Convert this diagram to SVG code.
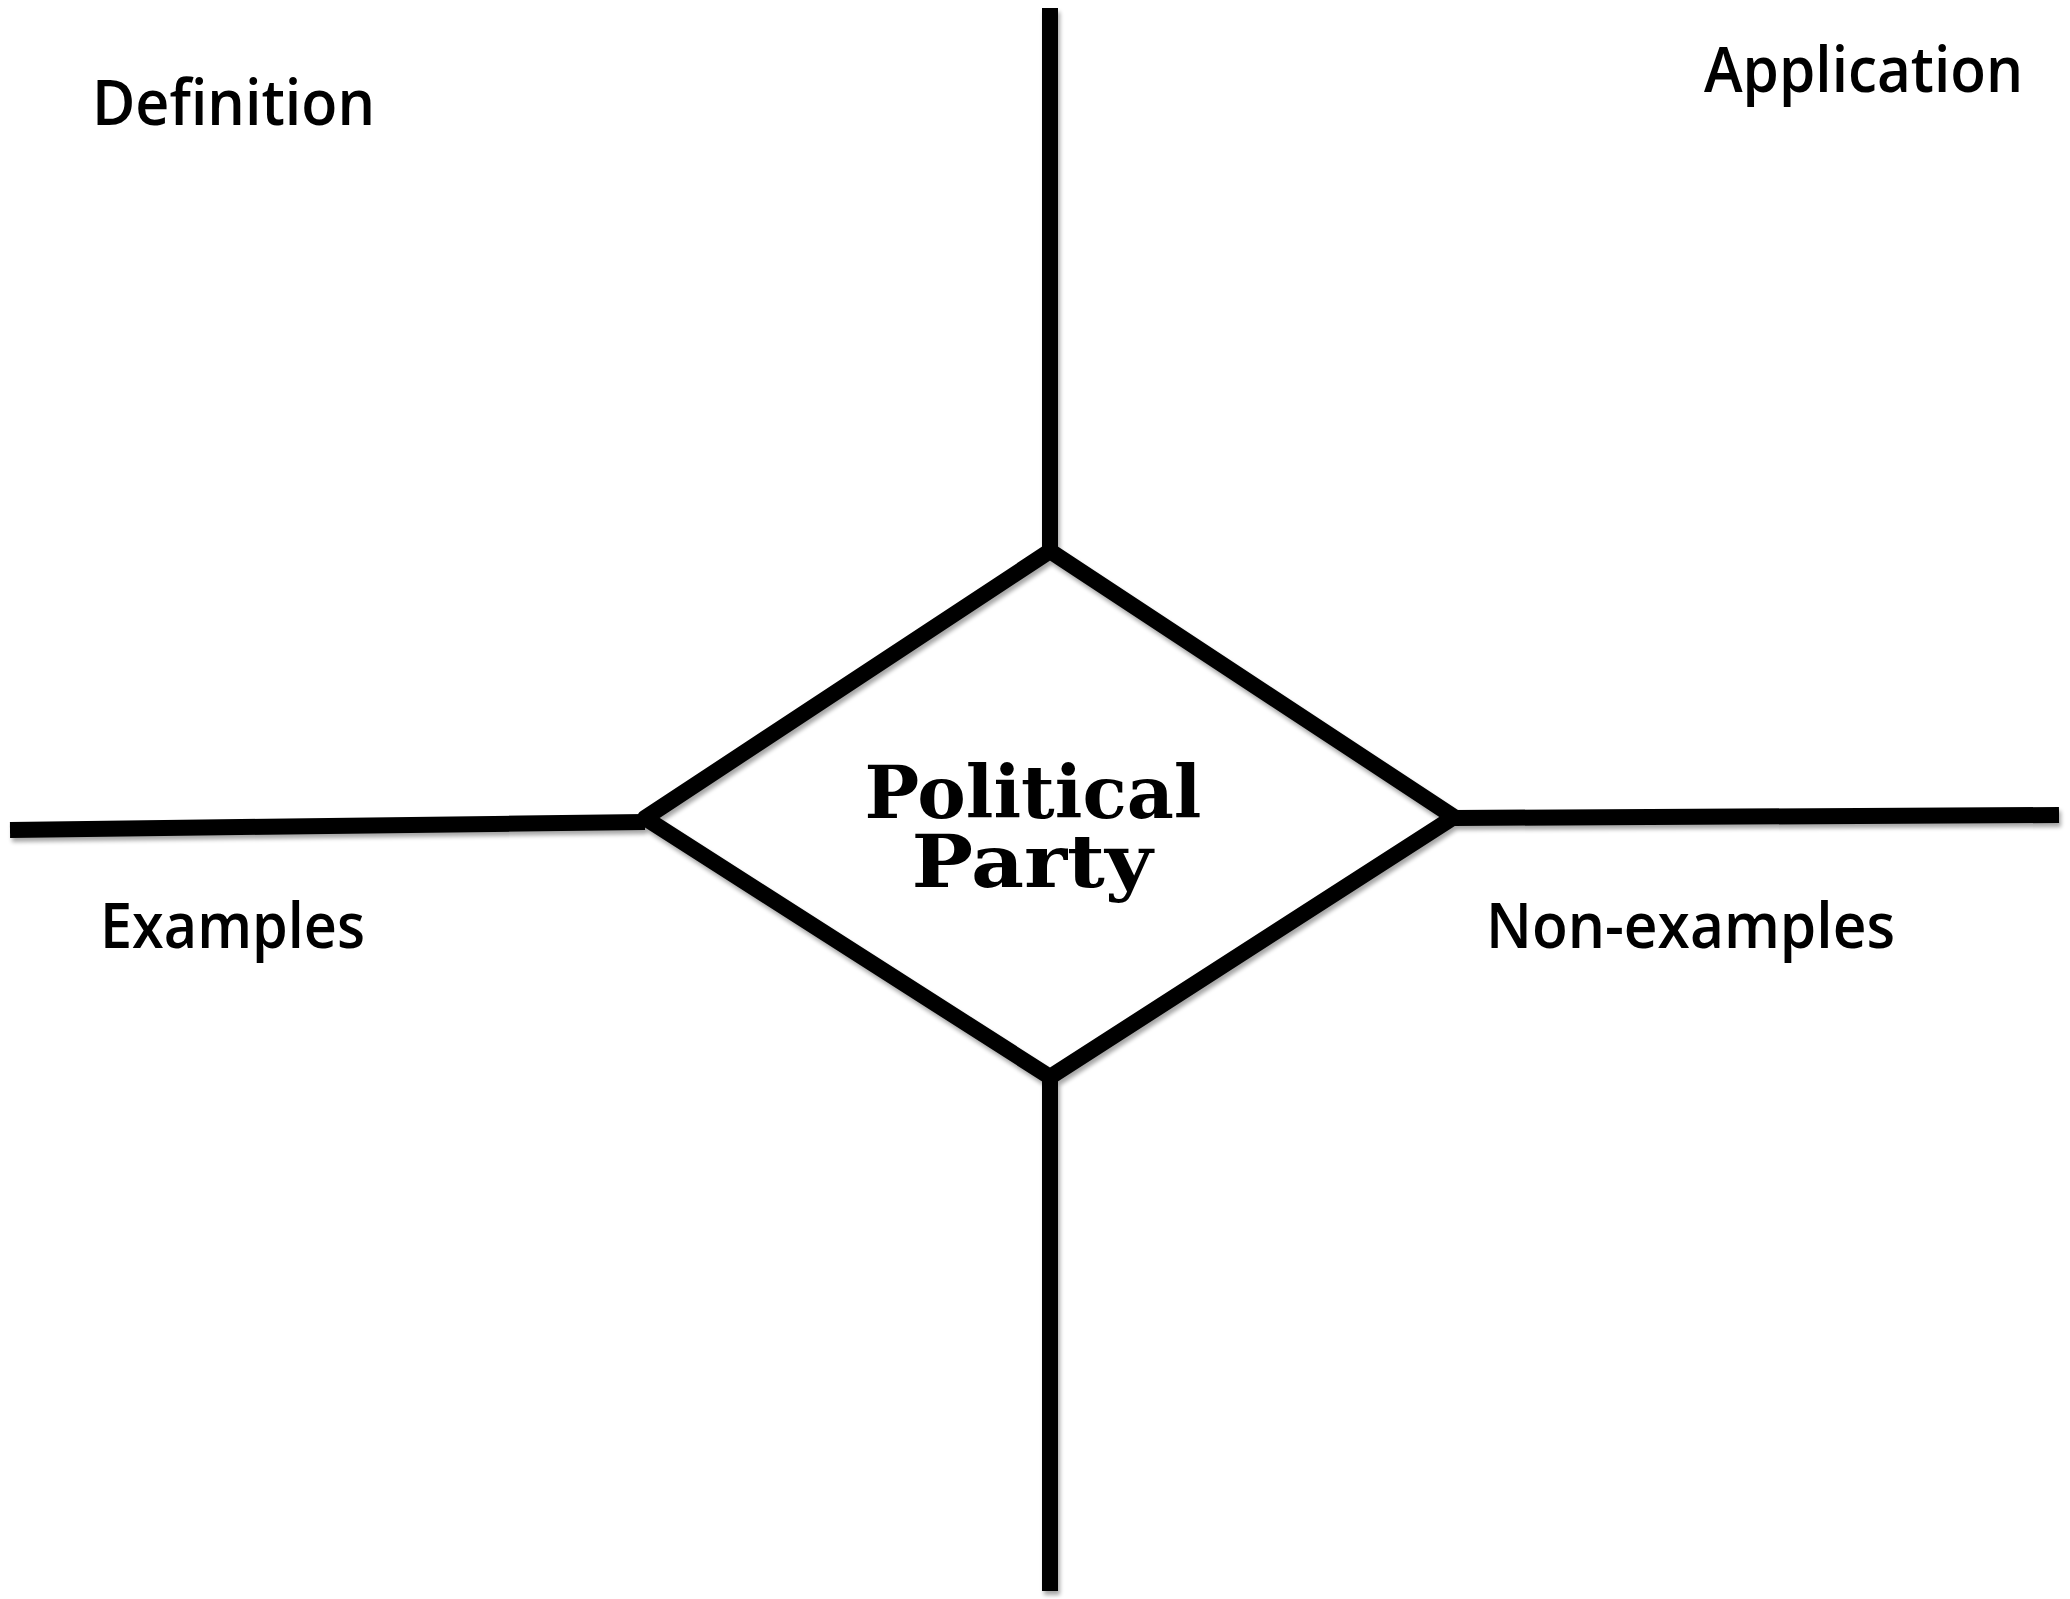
<svg xmlns="http://www.w3.org/2000/svg" width="2070" height="1599" viewBox="0 0 2070 1599">
  <defs>
    <filter id="sh" x="-5%" y="-5%" width="110%" height="110%">
      <feGaussianBlur in="SourceAlpha" stdDeviation="2"/>
      <feOffset dx="2" dy="4" result="b"/>
      <feComponentTransfer><feFuncA type="linear" slope="0.35"/></feComponentTransfer>
      <feMerge><feMergeNode/><feMergeNode in="SourceGraphic"/></feMerge>
    </filter>
  </defs>
  <style>
    .ln { stroke: #000; stroke-width: 16; fill: none; stroke-linejoin: miter; stroke-linecap: butt; }
    .lbl { font-family: "Open Sans", "Liberation Sans", sans-serif; font-weight: 600; font-size: 64px; fill: #000; }
    .ttl { font-family: "DejaVu Serif", "Liberation Serif", serif; font-weight: bold; font-size: 72px; fill: #000; text-anchor: middle; }
  </style>
  <rect width="2070" height="1599" fill="#fff"/>
  <g id="connectors" filter="url(#sh)">
    <line class="ln" x1="1050" y1="8" x2="1050" y2="551"/>
    <line class="ln" x1="1050" y1="1077" x2="1050" y2="1591"/>
    <line class="ln" x1="10" y1="830" x2="645" y2="822"/>
    <line class="ln" x1="1454" y1="818" x2="2059" y2="815"/>
    <polygon class="ln" points="1050,551 1454,817 1050,1077 645,818" style="stroke-linejoin:round"/>
  </g>
  <g id="center">
    <text class="ttl" x="1033" y="818" textLength="337" lengthAdjust="spacingAndGlyphs">Political</text>
    <text class="ttl" x="1032" y="887" textLength="241" lengthAdjust="spacingAndGlyphs">Party</text>
  </g>
  <g id="definition">
    <text class="lbl" x="92" y="125" textLength="283" lengthAdjust="spacingAndGlyphs">Definition</text>
  </g>
  <g id="application">
    <text class="lbl" x="1704" y="92" textLength="319" lengthAdjust="spacingAndGlyphs">Application</text>
  </g>
  <g id="examples">
    <text class="lbl" x="100" y="948" textLength="265" lengthAdjust="spacingAndGlyphs">Examples</text>
  </g>
  <g id="non-examples">
    <text class="lbl" x="1486" y="948" textLength="409" lengthAdjust="spacingAndGlyphs">Non-examples</text>
  </g>
</svg>
